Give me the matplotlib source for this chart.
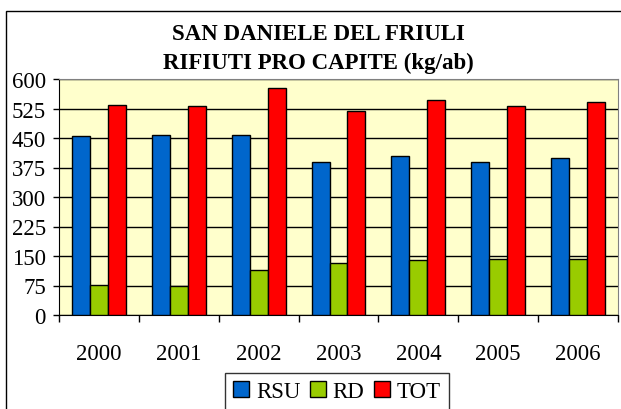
import matplotlib.pyplot as plt
import numpy as np
from matplotlib.patches import Rectangle

years = ["2000", "2001", "2002", "2003", "2004", "2005", "2006"]
rsu = [454, 458, 458, 388, 403, 388, 400]
rd = [76, 73, 115, 131, 139, 142, 142]
tot = [534, 531, 576, 519, 546, 531, 542]

plt.rcParams["font.family"] = ["Liberation Serif", "DejaVu Serif"]
FS = 16.5

fig = plt.figure(figsize=(6.21, 4.10), dpi=100)
ax = fig.add_axes([59/621, 94/410, 559/621, 236/410])

# outer chart frame (runs off the right and bottom edges)
fig.patches.append(Rectangle((6/621, -0.1), 1.0, (410-12)/410 + 0.1,
                             transform=fig.transFigure, fill=False,
                             edgecolor="black", lw=1.0))

x = np.arange(len(years))
w = 0.225
ax.set_facecolor("#FFFFCC")
ax.bar(x - w, rsu, w, color="#0066CC", edgecolor="black", lw=1.0, label="RSU", zorder=3)
ax.bar(x, rd, w, color="#99CC00", edgecolor="black", lw=1.0, label="RD", zorder=3)
ax.bar(x + w, tot, w, color="#FF0000", edgecolor="black", lw=1.0, label="TOT", zorder=3)

ax.set_xlim(-0.5, len(years) - 0.5)
ax.set_ylim(0, 600)
ax.set_yticks(np.arange(0, 601, 75))
ax.yaxis.grid(True, color="black", lw=1.0, zorder=0)
ax.set_axisbelow(True)

ax.set_xticks(np.arange(-0.5, len(years)), labels=[])
ax.set_xticks(x, labels=years, minor=True)
ax.tick_params(axis="x", which="major", direction="out", length=5, width=1)
ax.tick_params(axis="x", which="minor", length=0, pad=20, labelsize=FS)
ax.tick_params(axis="y", direction="out", length=4.5, width=1, pad=5, labelsize=FS)

for s in ["top", "right"]:
    ax.spines[s].set_color("#808080")
ax.spines["left"].set_color("black")
ax.spines["bottom"].set_color("black")

fig.text(318/621, 1 - 35/410, "SAN DANIELE DEL FRIULI", ha="center", va="center",
         fontsize=FS, fontweight="bold")
fig.text(318/621, 1 - 63/410, "RIFIUTI PRO CAPITE (kg/ab)", ha="center", va="center",
         fontsize=FS, fontweight="bold")

leg = ax.legend(loc="upper center", bbox_to_anchor=(337/621, 1 - 374/410),
                bbox_transform=fig.transFigure, ncol=3, fontsize=FS, frameon=True,
                fancybox=False, edgecolor="black", handlelength=0.7, handleheight=0.7,
                handletextpad=0.3, columnspacing=0.4, borderpad=0.35, borderaxespad=0)
leg.get_frame().set_linewidth(1.0)

fig.savefig("out.png", dpi=100)
